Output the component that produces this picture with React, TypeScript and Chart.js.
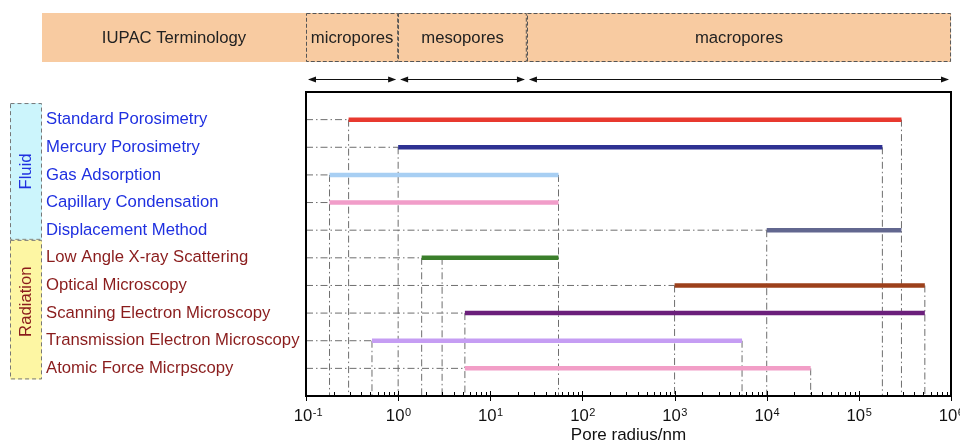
import React, { useEffect, useRef } from 'react';
import { Chart, registerables } from 'chart.js';

Chart.register(...registerables);

// ---------- data ----------
const methods = [
  'Standard Porosimetry',
  'Mercury Porosimetry',
  'Gas Adsorption',
  'Capillary Condensation',
  'Displacement Method',
  'Low Angle X-ray Scattering',
  'Optical Microscopy',
  'Scanning Electron Microscopy',
  'Transmission Electron Microscopy',
  'Atomic Force Micrpscopy',
];
const groupNames = ['Fluid', 'Radiation'];
const groupSizes = [5, 5];
// pore radius ranges (nm)
const rangeStart = [0.29, 1.0, 0.18, 0.18, 1e4, 1.8, 1e3, 5.3, 0.52, 5.3];
const rangeEnd = [2.9e5, 1.8e5, 55, 55, 2.9e5, 55, 5.2e5, 5.2e5, 5.4e3, 3e4];
const barColors = [
  '#e8392f',
  '#2e3192',
  '#a8cff3',
  '#f19dc9',
  '#62678f',
  '#3b7f2b',
  '#9c401b',
  '#6b1f7b',
  '#c59df3',
  '#f29ec7',
];
const extraGuideX = [3];
const extraGuideRow = [5];
const headerLabel = 'IUPAC Terminology';
const poreClasses = ['micropores', 'mesopores', 'macropores'];
const poreBounds = [0.1, 1, 25, 1e6];
const xTickExponents = [-1, 0, 1, 2, 3, 4, 5, 6];
const xMin = 0.1;
const xMax = 1e6;
const xTitle = 'Pore radius/nm';

const FONT = 'Liberation Sans, Arial, sans-serif';
const FS = 16.7;

function arrowHead(ctx: CanvasRenderingContext2D, x: number, y: number, dir: number) {
  ctx.beginPath();
  ctx.moveTo(x, y);
  ctx.lineTo(x - dir * 8, y - 3);
  ctx.lineTo(x - dir * 8, y + 3);
  ctx.closePath();
  ctx.fill();
}

const decorPlugin = {
  id: 'decor',
  afterDraw(chart: any) {
    const ctx: CanvasRenderingContext2D = chart.ctx;
    const xs = chart.scales.x;
    const ys = chart.scales.y;
    const ca = chart.chartArea;
    ctx.save();

    // header band
    const bandTop = 13;
    const bandH = 49;
    ctx.fillStyle = '#f8cba1';
    ctx.fillRect(42, bandTop, ca.right - 42, bandH);
    ctx.fillStyle = '#222';
    ctx.font = `${FS}px ${FONT}`;
    ctx.textAlign = 'center';
    ctx.textBaseline = 'middle';
    ctx.fillText(headerLabel, (42 + ca.left) / 2, bandTop + bandH / 2 + 1);
    ctx.strokeStyle = '#555';
    ctx.lineWidth = 1;
    for (let i = 0; i < poreClasses.length; i++) {
      const x0 = xs.getPixelForValue(poreBounds[i]);
      const x1 = xs.getPixelForValue(poreBounds[i + 1]);
      ctx.strokeStyle = '#555';
      ctx.setLineDash([4, 2]);
      ctx.strokeRect(Math.round(x0) + 0.5, bandTop + 0.5, x1 - x0 - 1, bandH - 1);
      ctx.setLineDash([]);
      ctx.fillStyle = '#222';
      ctx.fillText(poreClasses[i], (x0 + x1) / 2, bandTop + bandH / 2 + 1);
      // arrows
      const ay = 79.5;
      ctx.strokeStyle = '#111';
      ctx.beginPath();
      ctx.moveTo(x0 + 3, ay);
      ctx.lineTo(x1 - 3, ay);
      ctx.stroke();
      ctx.fillStyle = '#111';
      arrowHead(ctx, x0 + 2, ay, -1);
      arrowHead(ctx, x1 - 2, ay, 1);
    }

    // group boxes
    const gTop = [ys.getPixelForValue(-0.6), ys.getPixelForValue(4.35)];
    const gBot = [ys.getPixelForValue(4.35), ys.getPixelForValue(9.4)];
    const gFill = ['#ccf5fc', '#fdf6a3'];
    const gText = ['#1f30e0', '#8a1c1c'];
    const gShift = [0, -8];
    for (let g = 0; g < groupNames.length; g++) {
      ctx.fillStyle = gFill[g];
      ctx.fillRect(10, gTop[g], 32, gBot[g] - gTop[g]);
      ctx.setLineDash([4, 3]);
      ctx.strokeStyle = '#777';
      ctx.lineWidth = 1;
      ctx.strokeRect(10.5, gTop[g] + 0.5, 31, gBot[g] - gTop[g] - 1);
      ctx.setLineDash([]);
      ctx.save();
      ctx.translate(26, (gTop[g] + gBot[g]) / 2 + gShift[g]);
      ctx.rotate(-Math.PI / 2);
      ctx.fillStyle = gText[g];
      ctx.font = `${FS}px ${FONT}`;
      ctx.textAlign = 'center';
      ctx.textBaseline = 'middle';
      ctx.fillText(groupNames[g], 0, 0);
      ctx.restore();
    }

    // x ticks (inward)
    ctx.strokeStyle = '#000';
    ctx.lineWidth = 1;
    const e0 = Math.round(Math.log10(xMin));
    const e1 = Math.round(Math.log10(xMax));
    for (let e = e0; e <= e1; e++) {
      for (let m = 1; m <= 9; m++) {
        const v = m * Math.pow(10, e);
        if (v > xMax * 1.0001) break;
        const px = Math.round(xs.getPixelForValue(v)) + 0.5;
        ctx.beginPath();
        if (m === 1) {
          ctx.moveTo(px, ca.bottom - 5);
          ctx.lineTo(px, ca.bottom + 5);
        } else {
          ctx.moveTo(px, ca.bottom - 4);
          ctx.lineTo(px, ca.bottom);
        }
        ctx.stroke();
      }
    }

    // x tick labels: 10 with superscript exponent
    ctx.fillStyle = '#111';
    ctx.textAlign = 'left';
    ctx.textBaseline = 'alphabetic';
    xTickExponents.forEach((e) => {
      const px = xs.getPixelForValue(Math.pow(10, e));
      ctx.font = `${FS}px ${FONT}`;
      const w1 = ctx.measureText('10').width;
      const x0 = px - w1 / 2 - 3;
      ctx.fillText('10', x0, 420.5);
      ctx.font = `11px ${FONT}`;
      ctx.fillText(String(e), x0 + w1 + 0.5, 415.5);
    });

    // plot frame
    ctx.lineWidth = 2;
    ctx.strokeStyle = '#000';
    ctx.strokeRect(ca.left, ca.top, ca.right - ca.left, ca.bottom - ca.top);
    ctx.restore();
  },
};

export default function App() {
  const ref = useRef<HTMLCanvasElement>(null);
  useEffect(() => {
    if (!ref.current) return;
    const datasets: any[] = [];
    methods.forEach((_, i) => {
      datasets.push({
        data: [{ x: rangeStart[i], y: i }, { x: rangeEnd[i], y: i }],
        borderColor: barColors[i],
        borderWidth: 4.5,
        borderCapStyle: 'butt',
        pointRadius: 0,
        order: 0,
      });
      datasets.push({
        data: [{ x: xMin, y: i }, { x: rangeStart[i], y: i }],
        borderColor: '#6e6e6e',
        borderWidth: 1,
        borderDash: [7, 3, 1.5, 3],
        pointRadius: 0,
        order: 2,
      });
    });
    // vertical guides from each distinct endpoint down to the axis
    const seen: number[] = [];
    const vg: { x: number; row: number }[] = [];
    methods.forEach((_, i) => {
      [rangeStart[i], rangeEnd[i]].forEach((v) => {
        if (!seen.includes(v)) {
          seen.push(v);
          vg.push({ x: v, row: i });
        }
      });
    });
    extraGuideX.forEach((v, k) => vg.push({ x: v, row: extraGuideRow[k] }));
    vg.forEach((g) => {
      datasets.push({
        data: [{ x: g.x, y: g.row }, { x: g.x, y: 10 }],
        borderColor: '#6e6e6e',
        borderWidth: 1,
        borderDash: [7, 3, 1.5, 3],
        pointRadius: 0,
        order: 2,
      });
    });

    const chart = new Chart(ref.current, {
      type: 'line',
      data: { datasets },
      options: {
        animation: false,
        responsive: false,
        events: [],
        layout: { padding: { left: 46, top: 92, right: 9, bottom: 0 } },
        plugins: { legend: { display: false }, tooltip: { enabled: false } },
        scales: {
          x: {
            type: 'logarithmic',
            min: xMin,
            max: xMax,
            grid: { display: false, drawTicks: false },
            border: { display: false },
            ticks: { display: false },
            title: {
              display: true,
              text: xTitle,
              color: '#111',
              font: { family: FONT, size: 17 },
              padding: { top: 0, bottom: -2 },
            },
            afterFit: (s: any) => {
              s.height = 48;
              s.paddingLeft = 0;
              s.paddingRight = 0;
            },
          },
          y: {
            type: 'linear',
            reverse: true,
            min: -1,
            max: 10,
            grid: { display: false, drawTicks: false },
            border: { display: false },
            ticks: {
              stepSize: 1,
              autoSkip: false,
              crossAlign: 'far',
              font: { family: FONT, size: FS },
              color: (c: any) => (c.tick && c.tick.value < groupSizes[0] ? '#1f30e0' : '#8a1c1c'),
              callback: (value: any) => {
                const v = Number(value);
                return Number.isInteger(v) && v >= 0 && v < methods.length ? methods[v] : '';
              },
            },
            afterFit: (s: any) => {
              s.width = 260;
              s.paddingTop = 0;
              s.paddingBottom = 0;
            },
          },
        },
      } as any,
      plugins: [decorPlugin],
    });
    return () => chart.destroy();
  }, []);
  return (
    <div style={{ position: 'absolute', left: 0, top: 0, width: 960, height: 444, background: '#fff' }}>
      <canvas ref={ref} width={960} height={444} style={{ width: 960, height: 444, display: 'block' }} />
    </div>
  );
}
